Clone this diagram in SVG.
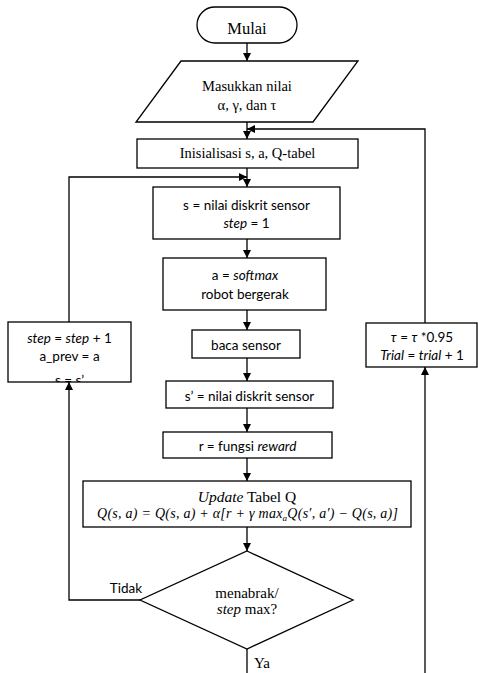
<svg xmlns="http://www.w3.org/2000/svg" width="478" height="673" viewBox="0 0 478 673">
<defs>
<marker id="ah" viewBox="0 0 10 10" refX="10" refY="5" markerWidth="8" markerHeight="8" markerUnits="userSpaceOnUse" orient="auto">
<path d="M0,0 L10,5 L0,10 z" fill="#000"/>
</marker>
<clipPath id="clipL"><rect x="8" y="322" width="123" height="60"/></clipPath>
</defs>
<style>
.shape{fill:#fff;stroke:#000;stroke-width:1.3}
.conn{fill:none;stroke:#000;stroke-width:1.3}
.tm{font-family:"Liberation Serif","Times New Roman",serif;fill:#000;text-anchor:middle}
.cb{font-family:Lato,"Open Sans",sans-serif;fill:#000;text-anchor:middle;font-size:13.5px}
.i{font-style:italic}
</style>
<rect width="478" height="673" fill="#fff"/>
<g id="connectors">
<path class="conn" d="M247,43 V61" marker-end="url(#ah)"/>
<path class="conn" d="M247,122 V139" marker-end="url(#ah)"/>
<path class="conn" d="M425,323 V129 H247" marker-end="url(#ah)"/>
<path class="conn" d="M247,168 V187" marker-end="url(#ah)"/>
<path class="conn" d="M69,322 V177 H247" marker-end="url(#ah)"/>
<path class="conn" d="M247,239 V258" marker-end="url(#ah)"/>
<path class="conn" d="M247,310 V330" marker-end="url(#ah)"/>
<path class="conn" d="M247,358 V381" marker-end="url(#ah)"/>
<path class="conn" d="M247,408 V432" marker-end="url(#ah)"/>
<path class="conn" d="M247,458 V481" marker-end="url(#ah)"/>
<path class="conn" d="M247,527 V551" marker-end="url(#ah)"/>
<path class="conn" d="M140,600 H69 V382" marker-end="url(#ah)"/>
<path class="conn" d="M247,649 V673"/>
<path class="conn" d="M425,673 V367" marker-end="url(#ah)"/>
</g>
<g id="mulai">
<rect class="shape" x="197" y="7" width="100" height="36" rx="18" ry="18"/>
<text class="tm" x="247" y="34" font-size="16.5">Mulai</text>
</g>
<g id="input">
<polygon class="shape" points="181,61 358,61 313,122 136,122"/>
<text class="tm" x="247" y="91" font-size="14.5">Masukkan nilai</text>
<text class="tm" x="247" y="110" font-size="14.5">α, γ, dan τ</text>
</g>
<g id="init">
<rect class="shape" x="137" y="139" width="221" height="29"/>
<text class="tm" x="247.5" y="158" font-size="14.5">Inisialisasi s, a, Q-tabel</text>
</g>
<g id="state">
<rect class="shape" x="153" y="187" width="187" height="52"/>
<text class="cb" x="246.5" y="209.5">s = nilai diskrit sensor</text>
<text class="cb" x="246.5" y="228"><tspan class="i">step</tspan> = 1</text>
</g>
<g id="action">
<rect class="shape" x="163" y="258" width="163" height="52"/>
<text class="cb" x="245" y="280">a = <tspan class="i">softmax</tspan></text>
<text class="cb" x="245" y="298.5">robot bergerak</text>
</g>
<g id="read">
<rect class="shape" x="192" y="330" width="108" height="28"/>
<text class="cb" x="246" y="350">baca sensor</text>
</g>
<g id="nextstate">
<rect class="shape" x="166" y="381" width="167" height="27"/>
<text class="cb" x="249.5" y="400.5">s’ = nilai diskrit sensor</text>
</g>
<g id="reward">
<rect class="shape" x="163" y="432" width="169" height="26"/>
<text class="cb" x="247.5" y="451">r = fungsi <tspan class="i">reward</tspan></text>
</g>
<g id="update">
<rect class="shape" x="83" y="481" width="328" height="46"/>
<text class="tm" x="247" y="502" font-size="15.5"><tspan class="i">Update</tspan> Tabel Q</text>
<text class="tm i" x="247.5" y="518" font-size="14" textLength="301" lengthAdjust="spacing">Q(s, a) = Q(s, a) + α[r + γ max<tspan font-size="9" dy="3">a</tspan><tspan dy="-3">Q(s′, a′) − Q(s, a)]</tspan></text>
</g>
<g id="decision">
<polygon class="shape" points="247,551 353,600 247,649 140,600"/>
<text class="tm" x="247" y="598" font-size="15">menabrak/</text>
<text class="tm" x="247" y="614" font-size="15"><tspan class="i">step</tspan> max?</text>
<text class="cb" x="126" y="593">Tidak</text>
<text class="tm" x="262" y="668" font-size="15">Ya</text>
</g>
<g id="stepupdate">
<rect class="shape" x="8" y="322" width="123" height="60"/>
<g clip-path="url(#clipL)">
<text class="cb" x="69.5" y="343"><tspan class="i">step</tspan> = <tspan class="i">step</tspan> + 1</text>
<text class="cb" x="69.5" y="361">a_prev = a</text>
<text class="cb" x="69.5" y="385">s = s’</text>
</g>
</g>
<g id="tauupdate">
<rect class="shape" x="366" y="323" width="111" height="44"/>
<text class="cb" x="422" y="342"><tspan class="i">τ</tspan> = <tspan class="i">τ</tspan> *0.95</text>
<text class="cb" x="422" y="360"><tspan class="i">Trial</tspan> = <tspan class="i">trial</tspan> + 1</text>
</g>
</svg>
